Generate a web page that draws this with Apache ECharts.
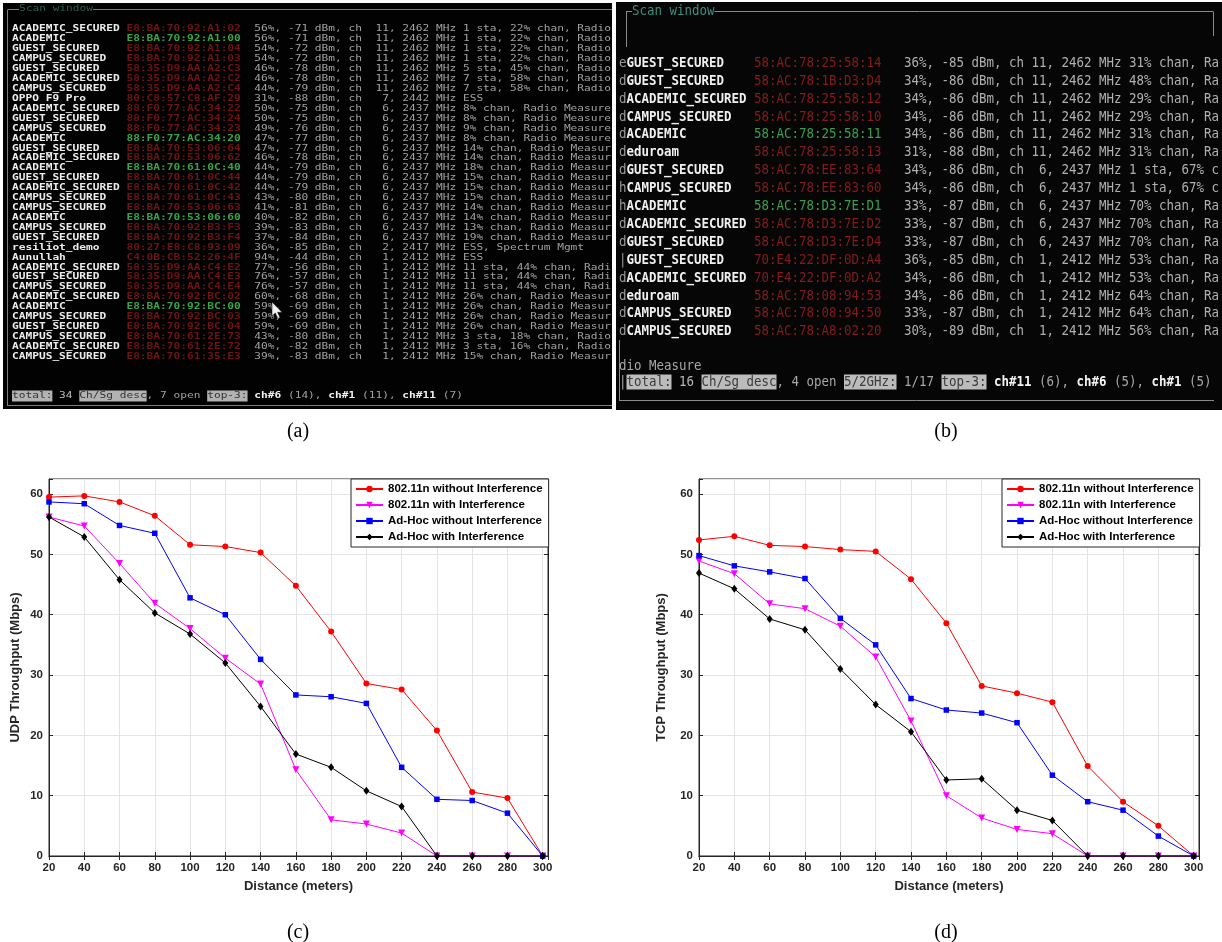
<!DOCTYPE html>
<html><head><meta charset="utf-8">
<script src="https://cdn.jsdelivr.net/npm/echarts@6/dist/echarts.min.js"></script>
<style>html,body{margin:0;padding:0;background:#fff}#c{width:1222px;height:942px}</style>
</head><body><div id="c"></div>
<script>
// ---------------- chart data ----------------
const distances = [20,40,60,80,100,120,140,160,180,200,220,240,260,280,300];
const seriesNames = ['802.11n without Interference','802.11n with Interference','Ad-Hoc without Interference','Ad-Hoc with Interference'];
const udpNoIntf    = [59.5,59.7,58.7,56.4,51.6,51.3,50.3,44.8,37.2,28.6,27.6,20.8,10.6,9.6,0];
const udpIntf      = [56.2,54.7,48.5,41.9,37.7,32.8,28.5,14.3,6.0,5.3,3.8,0,0,0,0];
const udpAdhoc     = [58.7,58.4,54.8,53.5,42.8,40.0,32.6,26.7,26.4,25.3,14.7,9.4,9.2,7.1,0];
const udpAdhocIntf = [56.2,52.9,45.8,40.3,36.8,32.0,24.8,16.9,14.7,10.8,8.2,0,0,0,0];
const tcpNoIntf    = [52.4,53.0,51.5,51.3,50.8,50.5,45.9,38.6,28.2,27.0,25.5,14.9,9.0,5.0,0];
const tcpIntf      = [48.9,46.8,41.8,41.0,38.1,33.0,22.4,10.0,6.3,4.4,3.7,0,0,0,0];
const tcpAdhoc     = [49.8,48.1,47.1,46.0,39.4,35.0,26.1,24.2,23.7,22.1,13.4,9.0,7.6,3.3,0];
const tcpAdhocIntf = [46.9,44.3,39.3,37.5,31.0,25.1,20.6,12.6,12.8,7.6,5.9,0,0,0,0];
const yTickLabels = [0,10,20,30,40,50,60];
const xTickLabels = [20,40,60,80,100,120,140,160,180,200,220,240,260,280,300];

// ---------------- terminal text (a) ----------------
const ssidA = ['ACADEMIC_SECURED','ACADEMIC','GUEST_SECURED','CAMPUS_SECURED','GUEST_SECURED','ACADEMIC_SECURED','CAMPUS_SECURED','OPPO F9 Pro','ACADEMIC_SECURED','GUEST_SECURED','CAMPUS_SECURED','ACADEMIC','GUEST_SECURED','ACADEMIC_SECURED','ACADEMIC','GUEST_SECURED','ACADEMIC_SECURED','CAMPUS_SECURED','CAMPUS_SECURED','ACADEMIC','CAMPUS_SECURED','GUEST_SECURED','resiliot_demo','Aunullah','ACADEMIC_SECURED','GUEST_SECURED','CAMPUS_SECURED','ACADEMIC_SECURED','ACADEMIC','CAMPUS_SECURED','GUEST_SECURED','CAMPUS_SECURED','ACADEMIC_SECURED','CAMPUS_SECURED'];
const macA = ['E8:BA:70:92:A1:02','E8:BA:70:92:A1:00','E8:BA:70:92:A1:04','E8:BA:70:92:A1:03','58:35:D9:AA:A2:C3','58:35:D9:AA:A2:C2','58:35:D9:AA:A2:C4','80:C8:57:C8:AF:29','88:F0:77:AC:34:22','88:F0:77:AC:34:24','88:F0:77:AC:34:23','88:F0:77:AC:34:20','E8:BA:70:53:06:64','E8:BA:70:53:06:62','E8:BA:70:61:0C:40','E8:BA:70:61:0C:44','E8:BA:70:61:0C:42','E8:BA:70:61:0C:43','E8:BA:70:53:06:63','E8:BA:70:53:06:60','E8:BA:70:92:B3:F3','E8:BA:70:92:B3:F4','80:27:E8:C8:93:09','C4:0B:CB:52:26:4F','58:35:D9:AA:C4:E2','58:35:D9:AA:C4:E3','58:35:D9:AA:C4:E4','E8:BA:70:92:BC:02','E8:BA:70:92:BC:00','E8:BA:70:92:BC:03','E8:BA:70:92:BC:04','E8:BA:70:61:2E:73','E8:BA:70:61:2E:72','E8:BA:70:61:35:E3'];
const infoA = [
'56%, -71 dBm, ch  11, 2462 MHz 1 sta, 22% chan, Radio',
'56%, -71 dBm, ch  11, 2462 MHz 1 sta, 22% chan, Radio',
'54%, -72 dBm, ch  11, 2462 MHz 1 sta, 22% chan, Radio',
'54%, -72 dBm, ch  11, 2462 MHz 1 sta, 22% chan, Radio',
'46%, -78 dBm, ch  11, 2462 MHz 5 sta, 45% chan, Radio',
'46%, -78 dBm, ch  11, 2462 MHz 7 sta, 58% chan, Radio',
'44%, -79 dBm, ch  11, 2462 MHz 7 sta, 58% chan, Radio',
'31%, -88 dBm, ch   7, 2442 MHz ESS',
'50%, -75 dBm, ch   6, 2437 MHz 8% chan, Radio Measure',
'50%, -75 dBm, ch   6, 2437 MHz 8% chan, Radio Measure',
'49%, -76 dBm, ch   6, 2437 MHz 9% chan, Radio Measure',
'47%, -77 dBm, ch   6, 2437 MHz 8% chan, Radio Measure',
'47%, -77 dBm, ch   6, 2437 MHz 14% chan, Radio Measur',
'46%, -78 dBm, ch   6, 2437 MHz 14% chan, Radio Measur',
'44%, -79 dBm, ch   6, 2437 MHz 18% chan, Radio Measur',
'44%, -79 dBm, ch   6, 2437 MHz 15% chan, Radio Measur',
'44%, -79 dBm, ch   6, 2437 MHz 15% chan, Radio Measur',
'43%, -80 dBm, ch   6, 2437 MHz 15% chan, Radio Measur',
'41%, -81 dBm, ch   6, 2437 MHz 14% chan, Radio Measur',
'40%, -82 dBm, ch   6, 2437 MHz 14% chan, Radio Measur',
'39%, -83 dBm, ch   6, 2437 MHz 13% chan, Radio Measur',
'37%, -84 dBm, ch   6, 2437 MHz 19% chan, Radio Measur',
'36%, -85 dBm, ch   2, 2417 MHz ESS, Spectrum Mgmt',
'94%, -44 dBm, ch   1, 2412 MHz ESS',
'77%, -56 dBm, ch   1, 2412 MHz 11 sta, 44% chan, Radi',
'76%, -57 dBm, ch   1, 2412 MHz 11 sta, 44% chan, Radi',
'76%, -57 dBm, ch   1, 2412 MHz 11 sta, 44% chan, Radi',
'60%, -68 dBm, ch   1, 2412 MHz 26% chan, Radio Measur',
'59%, -69 dBm, ch   1, 2412 MHz 26% chan, Radio Measur',
'59%, -69 dBm, ch   1, 2412 MHz 26% chan, Radio Measur',
'59%, -69 dBm, ch   1, 2412 MHz 26% chan, Radio Measur',
'43%, -80 dBm, ch   1, 2412 MHz 3 sta, 18% chan, Radio',
'40%, -82 dBm, ch   1, 2412 MHz 3 sta, 16% chan, Radio',
'39%, -83 dBm, ch   1, 2412 MHz 15% chan, Radio Measur'];
const statusA = [['total:','hl'],[' 34 ','n'],['Ch/Sg desc','hl'],[', 7 open ','g'],['top-3:','hl'],[' ','g'],['ch#6','b'],[' (14), ','g'],['ch#1','b'],[' (11), ','g'],['ch#11','b'],[' (7)','g']];

// ---------------- terminal text (b) ----------------
const leadB = ['e','d','d','d','d','d','d','h','h','d','d','|','d','d','d','d'];
const ssidB = ['GUEST_SECURED','GUEST_SECURED','ACADEMIC_SECURED','CAMPUS_SECURED','ACADEMIC','eduroam','GUEST_SECURED','CAMPUS_SECURED','ACADEMIC','ACADEMIC_SECURED','GUEST_SECURED','GUEST_SECURED','ACADEMIC_SECURED','eduroam','CAMPUS_SECURED','CAMPUS_SECURED'];
const macB = ['58:AC:78:25:58:14','58:AC:78:1B:D3:D4','58:AC:78:25:58:12','58:AC:78:25:58:10','58:AC:78:25:58:11','58:AC:78:25:58:13','58:AC:78:EE:83:64','58:AC:78:EE:83:60','58:AC:78:D3:7E:D1','58:AC:78:D3:7E:D2','58:AC:78:D3:7E:D4','70:E4:22:DF:0D:A4','70:E4:22:DF:0D:A2','58:AC:78:08:94:53','58:AC:78:08:94:50','58:AC:78:A8:02:20'];
const infoB = [
'36%, -85 dBm, ch 11, 2462 MHz 31% chan, Ra',
'34%, -86 dBm, ch 11, 2462 MHz 48% chan, Ra',
'34%, -86 dBm, ch 11, 2462 MHz 29% chan, Ra',
'34%, -86 dBm, ch 11, 2462 MHz 29% chan, Ra',
'34%, -86 dBm, ch 11, 2462 MHz 31% chan, Ra',
'31%, -88 dBm, ch 11, 2462 MHz 31% chan, Ra',
'34%, -86 dBm, ch  6, 2437 MHz 1 sta, 67% c',
'34%, -86 dBm, ch  6, 2437 MHz 1 sta, 67% c',
'33%, -87 dBm, ch  6, 2437 MHz 70% chan, Ra',
'33%, -87 dBm, ch  6, 2437 MHz 70% chan, Ra',
'33%, -87 dBm, ch  6, 2437 MHz 70% chan, Ra',
'36%, -85 dBm, ch  1, 2412 MHz 53% chan, Ra',
'34%, -86 dBm, ch  1, 2412 MHz 53% chan, Ra',
'34%, -86 dBm, ch  1, 2412 MHz 64% chan, Ra',
'33%, -87 dBm, ch  1, 2412 MHz 64% chan, Ra',
'30%, -89 dBm, ch  1, 2412 MHz 56% chan, Ra'];
const statusB = [['|','g'],['total:','hl'],[' 16 ','n'],['Ch/Sg desc','hl'],[', 4 open ','g'],['5/2GHz:','hl'],[' 1/17 ','g'],['top-3:','hl'],[' ','g'],['ch#11','b'],[' (6), ','g'],['ch#6','b'],[' (5), ','g'],['ch#1','b'],[' (5)','g']];

const captions = ['(a)','(b)','(c)','(d)'];

// ---------------- rendering helpers ----------------
function mono(x, y, text, fill, fs, cw, bold, bg) {
  const el = {type:'text', x:x, y:y, scaleX: cw/(fs*0.602), silent:true, z:10,
    style:{text:text, fill:fill, fontSize:fs, fontFamily:'"DejaVu Sans Mono", monospace',
      fontWeight: bold ? 'bold' : 'normal', align:'left', verticalAlign:'middle',
      textAlign:'left', textVerticalAlign:'middle'}};
  if (bg) { el.style.backgroundColor = bg; el.style.padding = [1,0,0,0]; }
  return el;
}
function statusLine(g, x0, y, segs, fs, cw, st) {
  let col = 0;
  segs.forEach(([t,k]) => {
    const s = st[k];
    g.push(mono(x0 + col*cw, y, t, s.fill, fs, cw, !!s.bold, s.bg));
    col += t.length;
  });
}
function line(x1,y1,x2,y2,c){return {type:'line',silent:true,z:9,shape:{x1,y1,x2,y2},style:{stroke:c,lineWidth:1}};}

const g = [];
// panel (a)
g.push({type:'rect', silent:true, z:5, shape:{x:3,y:3,width:609,height:406}, style:{fill:'#020202'}});
g.push(line(8,9.5,612,9.5,'#7c7c7c'), line(7.5,9.5,7.5,406,'#7c7c7c'), line(7.5,405.5,612,405.5,'#7c7c7c'));
g.push(mono(19, 9, 'Scan window', '#2a5e51', 9.5, 6.73, false, '#020202'));
(function(){
  const x0 = 12, cw = 6.73, fs = 9.5;
  ssidA.forEach((s,i) => {
    const y = 29 + i*9.92;
    g.push(mono(x0, y, s, '#ececec', fs, cw, true));
    g.push(mono(x0 + 17*cw, y, macA[i], s === 'ACADEMIC' ? '#37a444' : '#6e1414', fs, cw, true));
    g.push(mono(x0 + 36*cw, y, infoA[i], '#a2a2a2', fs, cw, false));
  });
  statusLine(g, x0, 396, statusA, fs, cw, {
    hl:{fill:'#333', bg:'#b2b2b2'}, n:{fill:'#bdbdbd'}, g:{fill:'#a2a2a2'}, b:{fill:'#f2f2f2', bold:true}});
})();
// mouse cursor in (a)
g.push({type:'polygon', silent:true, z:12, shape:{points:[[272,302],[272,316],[275.3,313],[277.8,318.5],[280,317.5],[277.6,312.3],[282,312.3]]}, style:{fill:'#f4f4f4', stroke:'#222', lineWidth:0.6}});

// panel (b)
g.push({type:'rect', silent:true, z:5, shape:{x:616,y:2,width:606,height:408}, style:{fill:'#060606'}});
g.push(line(626,11.5,1213,11.5,'#8a8a8a'), line(626.5,11.5,626.5,47,'#8a8a8a'), line(1213.5,11.5,1213.5,36,'#8a8a8a'));
g.push(line(619,400.5,1214,400.5,'#8a8a8a'), line(619.5,340,619.5,400.5,'#8a8a8a'));
g.push(mono(632, 11, 'Scan window', '#3f8e7f', 13.5, 7.5, false, '#060606'));
(function(){
  const x0 = 619, cw = 7.5, fs = 13.5;
  ssidB.forEach((s,i) => {
    const y = 63.3 + i*17.9;
    g.push(mono(x0, y, leadB[i], '#9a9a9a', fs, cw, false));
    g.push(mono(x0 + cw, y, s, '#f0f0f0', fs, cw, true));
    g.push(mono(x0 + 18*cw, y, macB[i], s === 'ACADEMIC' ? '#3d9f4b' : '#861b1b', fs, cw, false));
    g.push(mono(x0 + 38*cw, y, infoB[i], '#b0b0b0', fs, cw, false));
  });
  g.push(mono(x0, 366, 'dio Measure', '#a8a8a8', fs, cw, false));
  statusLine(g, x0, 382, statusB, fs, cw, {
    hl:{fill:'#3a3a3a', bg:'#bcbcbc'}, n:{fill:'#b8b8b8'}, g:{fill:'#a8a8a8'}, b:{fill:'#f4f4f4', bold:true}});
})();

// captions
[[298,432],[946,432],[298,933],[946,933]].forEach((p,i) => {
  g.push({type:'text', x:p[0], y:p[1], silent:true, z:10,
    style:{text:captions[i], fill:'#000', fontSize:20, fontFamily:'"Liberation Serif", serif',
      align:'center', verticalAlign:'middle', textAlign:'center', textVerticalAlign:'middle'}});
});

// ---------------- charts ----------------
const colors = ['#ff0000','#ff00ff','#0000ff','#000000'];
const symbols = ['circle','triangle','rect','diamond'];
const symbolSizes = [6,7,5.5,[6,8]];
const symbolRotates = [0,180,0,0];
const AX = '#262626';
const labelFont = {color:AX, fontWeight:'bold', fontSize:11.5, fontFamily:'"Liberation Sans", Arial, sans-serif'};
const nameFont = {color:AX, fontWeight:'bold', fontSize:13, fontFamily:'"Liberation Sans", Arial, sans-serif'};
const XMAX = 303, YMAX = 62.5;

function xAxes(gi) {
  return [
    {type:'value', gridIndex:gi, position:'bottom', min:20, max:XMAX, interval:20,
     axisLine:{lineStyle:{color:AX}}, axisTick:{inside:true, length:4, lineStyle:{color:AX}},
     axisLabel:Object.assign({margin:6, formatter:v => xTickLabels.includes(v) ? String(v) : ''}, labelFont),
     splitLine:{show:true, lineStyle:{color:'#e4e4e4'}},
     name:'Distance (meters)', nameLocation:'middle', nameGap:24, nameTextStyle:nameFont},
    {type:'value', gridIndex:gi, position:'top', min:20, max:XMAX, interval:20,
     axisLine:{lineStyle:{color:AX}}, axisTick:{inside:true, length:4, lineStyle:{color:AX}},
     axisLabel:{show:false}, splitLine:{show:false}}
  ];
}
function yAxes(gi, name, gap) {
  return [
    {type:'value', gridIndex:gi, position:'left', min:0, max:YMAX, interval:10,
     axisLine:{lineStyle:{color:AX}}, axisTick:{inside:true, length:4, lineStyle:{color:AX}},
     axisLabel:Object.assign({margin:6, formatter:v => yTickLabels.includes(v) ? String(v) : ''}, labelFont),
     splitLine:{show:true, lineStyle:{color:'#e4e4e4'}},
     name:name, nameLocation:'middle', nameGap:gap, nameRotate:90, nameTextStyle:nameFont},
    {type:'value', gridIndex:gi, position:'right', min:0, max:YMAX, interval:10,
     axisLine:{lineStyle:{color:AX}}, axisTick:{inside:true, length:4, lineStyle:{color:AX}},
     axisLabel:{show:false}, splitLine:{show:false}}
  ];
}
function makeSeries(axisIdx, arrays) {
  return arrays.map((vals, k) => ({
    type:'line', name:seriesNames[k], xAxisIndex:axisIdx, yAxisIndex:axisIdx,
    data: distances.map((d, j) => [d, vals[j]]),
    symbol:symbols[k], symbolSize:symbolSizes[k], symbolRotate:symbolRotates[k], showSymbol:true,
    lineStyle:{color:colors[k], width:1}, itemStyle:{color:colors[k]}, z:3+k, animation:false
  }));
}
function legendAt(left) {
  return {data:seriesNames, orient:'vertical', left:left, top:479, itemWidth:27, itemHeight:8, itemGap:2,
    padding:[3,6,3,4], backgroundColor:'#ffffff', borderColor:AX, borderWidth:1, selectedMode:false,
    textStyle:{color:'#000', fontWeight:'bold', fontSize:11.5, fontFamily:'"Liberation Sans", Arial, sans-serif', lineHeight:14}};
}

const option = {
  backgroundColor:'#ffffff',
  animation:false,
  grid:[
    {left:49, top:479, width:499, height:377, show:true, borderColor:AX, borderWidth:1, backgroundColor:'#fff'},
    {left:699, top:479, width:500, height:377, show:true, borderColor:AX, borderWidth:1, backgroundColor:'#fff'}
  ],
  xAxis:[...xAxes(0), ...xAxes(1)],
  yAxis:[...yAxes(0,'UDP Throughput (Mbps)',27), ...yAxes(1,'TCP Throughput (Mbps)',31)],
  legend:[legendAt(351), legendAt(1002)],
  series:[
    ...makeSeries(0, [udpNoIntf, udpIntf, udpAdhoc, udpAdhocIntf]),
    ...makeSeries(2, [tcpNoIntf, tcpIntf, tcpAdhoc, tcpAdhocIntf])
  ],
  graphic:{elements:g}
};
const chart = echarts.init(document.getElementById('c'), null, {renderer:'canvas'});
chart.setOption(option);
</script></body></html>
